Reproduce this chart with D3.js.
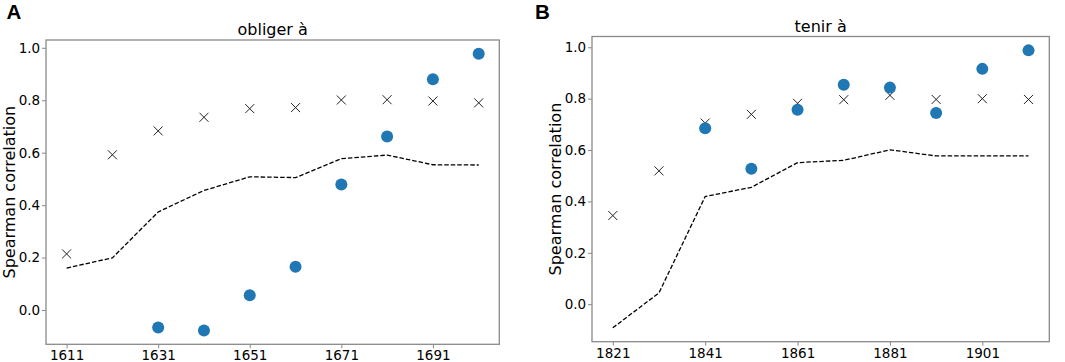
<!DOCTYPE html>
<html>
<head>
<meta charset="utf-8">
<script src="https://cdn.jsdelivr.net/npm/d3@7"></script>
<style>
  body { margin: 0; background: #fff; }
  svg { display: block; font-family: "DejaVu Sans", sans-serif; }
</style>
</head>
<body>
<div id="chart"></div>
<script>
// Panel A: obliger à
const yearsA = [1611, 1621, 1631, 1641, 1651, 1661, 1671, 1681, 1691, 1701];
const crossesA = [0.214, 0.592, 0.683, 0.735, 0.768, 0.772, 0.801, 0.802, 0.797, 0.790];
const dotsA = [null, null, -0.067, -0.078, 0.056, 0.165, 0.479, 0.662, 0.880, 0.977];
const dashedA = [0.160, 0.199, 0.374, 0.456, 0.508, 0.505, 0.577, 0.591, 0.554, 0.553];

// Panel B: tenir à
const yearsB = [1821, 1831, 1841, 1851, 1861, 1871, 1881, 1891, 1901, 1911];
const crossesB = [0.345, 0.519, 0.705, 0.739, 0.782, 0.796, 0.813, 0.797, 0.800, 0.797];
const dotsB = [null, null, 0.685, 0.527, 0.757, 0.854, 0.843, 0.744, 0.916, 0.988];
const dashedB = [-0.092, 0.044, 0.419, 0.455, 0.551, 0.560, 0.601, 0.577, 0.577, 0.577];

const yTicks = [0, 0.2, 0.4, 0.6, 0.8, 1.0];
const yLabel = "Spearman correlation";

// Dimensions
const width = 1065;
const height = 362;

const svg = d3.select("#chart")
    .append("svg")
    .attr("width", width)
    .attr("height", height);

// pad a domain by 5% on each side, like matplotlib's default margins
function padded(ext) {
    const m = (ext[1] - ext[0]) * 0.05;
    return [ext[0] - m, ext[1] + m];
}

function drawPanel(p) {
    const g = svg.append("g");

    const xScale = d3.scaleLinear()
        .domain(padded(d3.extent(p.years)))
        .range([p.left, p.right]);

    const allVals = p.crosses.concat(p.dots, p.dashed).filter(v => v != null);
    const yScale = d3.scaleLinear()
        .domain(padded(d3.extent(allVals)))
        .range([p.bottom, p.top]);

    // Axes
    const xTicks = d3.range(p.years[0], p.years[p.years.length - 1] + 1, 20);
    const gX = g.append("g")
        .attr("transform", `translate(0, ${p.bottom})`)
        .call(d3.axisBottom(xScale).tickValues(xTicks).tickFormat(d3.format("d"))
            .tickSize(4).tickPadding(2.4));
    const gY = g.append("g")
        .attr("transform", `translate(${p.left}, 0)`)
        .call(d3.axisLeft(yScale).tickValues(yTicks).tickFormat(d3.format(".1f"))
            .tickSize(4).tickPadding(1.8));

    [gX, gY].forEach(ax => {
        ax.select(".domain").remove();
        ax.selectAll(".tick line").attr("stroke", "#888").attr("stroke-width", 1);
        ax.selectAll(".tick text")
            .attr("fill", "#000")
            .style("font-family", "DejaVu Sans")
            .style("font-size", "13.5px");
    });

    // Frame
    g.append("rect")
        .attr("x", p.left)
        .attr("y", p.top)
        .attr("width", p.right - p.left)
        .attr("height", p.bottom - p.top)
        .attr("fill", "none")
        .attr("stroke", "#8a8a8a")
        .attr("stroke-width", 1.3);

    // Dashed line
    const line = d3.line()
        .x(d => xScale(d.year))
        .y(d => yScale(d.value));
    g.append("path")
        .datum(p.years.map((yr, i) => ({ year: yr, value: p.dashed[i] })))
        .attr("fill", "none")
        .attr("stroke", "#000")
        .attr("stroke-width", 1.3)
        .attr("stroke-dasharray", "4.5,2")
        .attr("d", line);

    // Crosses
    const s = 4.5;
    g.selectAll("path.cross")
        .data(p.years.map((yr, i) => ({ year: yr, value: p.crosses[i] })))
        .join("path")
        .attr("class", "cross")
        .attr("fill", "none")
        .attr("stroke", "#222")
        .attr("stroke-width", 1)
        .attr("d", d => {
            const cx = xScale(d.year), cy = yScale(d.value);
            return `M${cx - s},${cy - s}L${cx + s},${cy + s}M${cx - s},${cy + s}L${cx + s},${cy - s}`;
        });

    // Dots
    g.selectAll("circle")
        .data(p.years.map((yr, i) => ({ year: yr, value: p.dots[i] })).filter(d => d.value != null))
        .join("circle")
        .attr("cx", d => xScale(d.year))
        .attr("cy", d => yScale(d.value))
        .attr("r", 6)
        .attr("fill", "#1f77b4");

    // Title
    g.append("text")
        .attr("x", (p.left + p.right) / 2)
        .attr("y", p.top - 5)
        .attr("text-anchor", "middle")
        .style("font-size", "16px")
        .text(p.title);

    // Y label
    g.append("text")
        .attr("transform", `translate(${p.left - 31}, ${(p.top + p.bottom) / 2}) rotate(-90)`)
        .attr("text-anchor", "middle")
        .style("font-size", "16px")
        .text(yLabel);

    // Panel letter
    svg.append("text")
        .attr("x", p.letterX)
        .attr("y", 18.5)
        .style("font-family", "Liberation Sans, Arial, sans-serif")
        .style("font-weight", "bold")
        .style("font-size", "20.5px")
        .text(p.letter);
}

drawPanel({
    years: yearsA, crosses: crossesA, dots: dotsA, dashed: dashedA,
    left: 46, right: 499.3, top: 40, bottom: 344.3,
    title: "obliger à", letter: "A", letterX: 6.5
});

drawPanel({
    years: yearsB, crosses: crossesB, dots: dotsB, dashed: dashedB,
    left: 592, right: 1049.3, top: 36.5, bottom: 341.7,
    title: "tenir à", letter: "B", letterX: 535
});
</script>
</body>
</html>
